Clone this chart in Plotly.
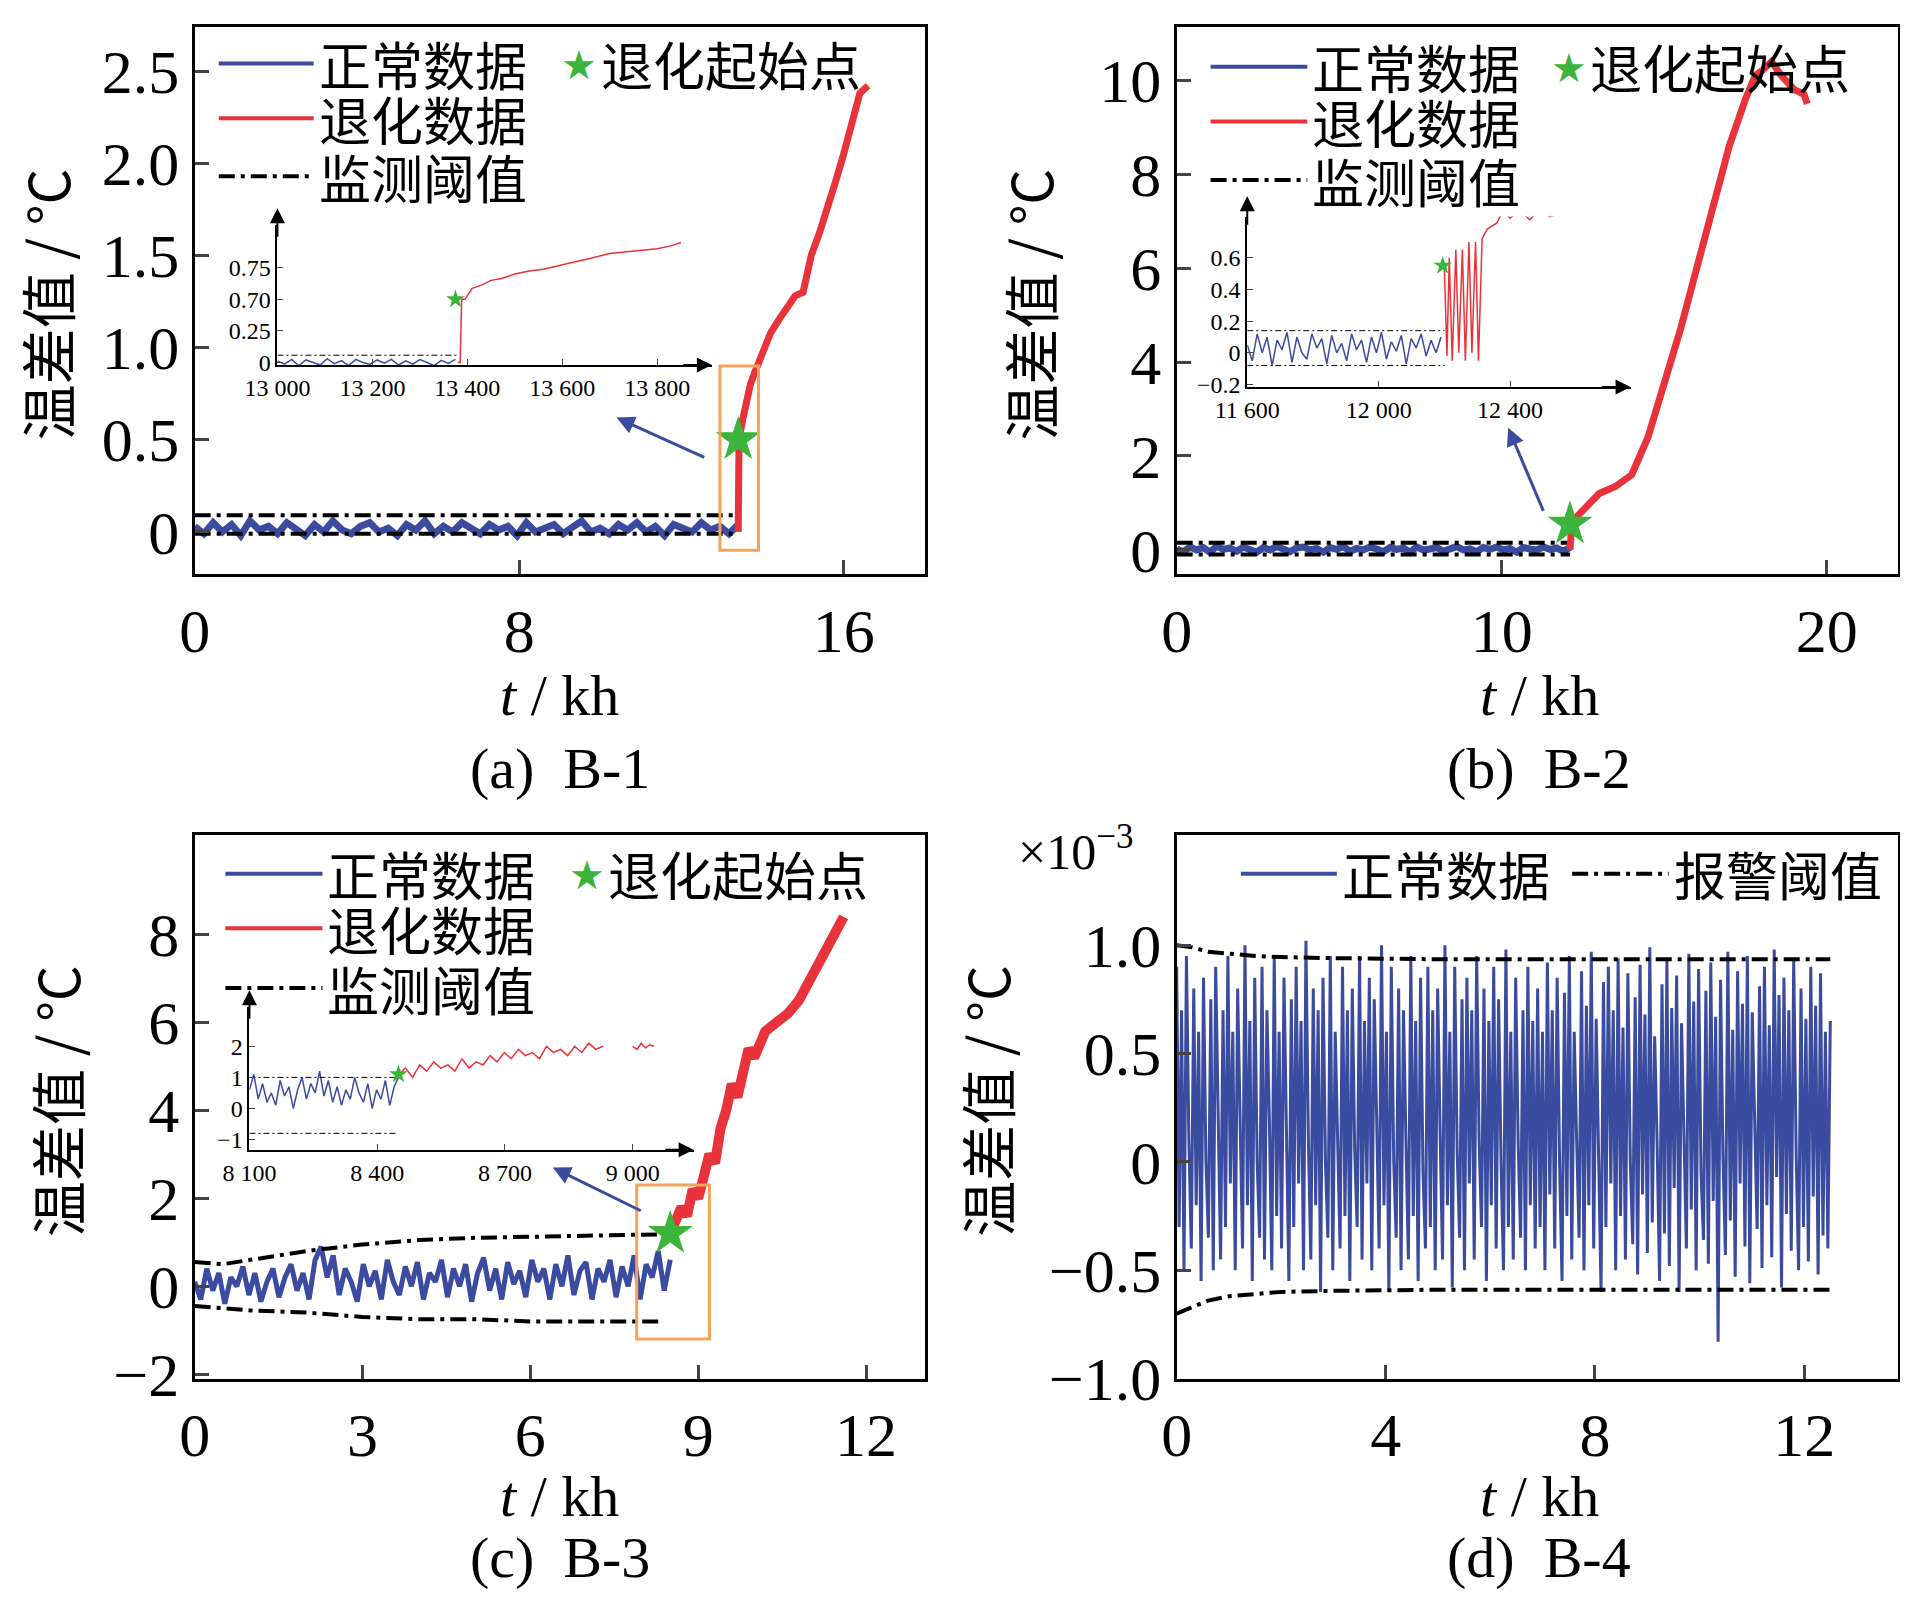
import numpy as np
import plotly.graph_objects as go

FW, FH = 1892, 1584
def px(x): return (x * 1908 / 1568 - 8) / FW
def py(y): return 1 - (y * 1600 / 1315 - 8) / FH
def cl(v): return [min(max(u, 0.0), 1.0) for u in v]

BLUE = '#3a4ba0'; RED = '#e8333a'; GREEN = '#3cb43c'; ORANGE = '#f5a35a'
SERIF = 'Liberation Serif'; CJK = 'Noto Sans CJK SC'

# ---------------- data ----------------
a_blue = [0.03,-0.01,0.05,0.00,0.04,-0.02,0.06,0.01,0.03,-0.01,0.05,0.02,-0.02,0.04,0.00,0.06,0.01,-0.01,0.03,0.05,
          0.00,0.02,-0.02,0.04,0.01,0.06,-0.01,0.03,0.00,0.05,0.02,-0.01,0.04,0.01,0.03,-0.02,0.05,0.00,0.02,0.04,
          -0.01,0.03,0.06,0.00,0.02,-0.01,0.04,0.01,0.05,0.00,0.03,-0.02,0.04,0.02,0.00,0.05,0.01,0.03,-0.01,0.04]
a_blue_t = np.linspace(0, 13.4, len(a_blue))
a_thr_t = [0, 13.4]; a_thr_up = [0.09, 0.09]; a_thr_lo = [-0.01, -0.01]
a_red_t = [13.4,13.42,13.5,13.6,13.7,13.8,13.9,14.0,14.2,14.4,14.6,14.8,15.0,15.2,15.4,15.6,15.8,16.0,16.2,16.4,16.6]
a_red = [0.0,0.5,0.6,0.72,0.8,0.86,0.92,0.98,1.08,1.15,1.22,1.28,1.3,1.5,1.62,1.75,1.9,2.05,2.2,2.38,2.42]
a_star = (13.4, 0.5)
# inset a (y on index scale: 0->0, 1->0.25, 2->0.70, 3->0.75)
ai_blue = [0.05,-0.05,0.1,-0.1,0.08,0.0,-0.08,0.12,-0.04,0.06,-0.1,0.1,0.0,-0.06,0.08,-0.02,0.1,-0.08,0.05,-0.05,0.09,0.0,-0.1,0.07,-0.03,0.1]
ai_blue_t = np.linspace(13000, 13375, len(ai_blue))
ai_thr_up = [0.23, 0.23]; ai_thr_lo = [-0.15, -0.15]; ai_thr_t = [13000, 13380]
ai_red_t = [13380,13385,13388,13395,13410,13430,13450,13470,13500,13530,13560,13600,13630,13660,13700,13730,13760,13800,13830,13850]
ai_red = [0.0,0.0,2.0,2.0,2.35,2.45,2.6,2.65,2.8,2.9,2.95,3.1,3.2,3.3,3.45,3.5,3.55,3.6,3.7,3.8]
ai_ticks = [0, 1, 2, 3]; ai_ticktext = ['0', '0.25', '0.70', '0.75']

b_blue = [0.02,-0.04,0.06,0.0,0.05,-0.05,0.08,0.01,0.04,-0.03,0.06,0.02,-0.05,0.05,0.0,0.07,0.01,-0.04,0.04,0.06,
          0.0,0.03,-0.05,0.05,0.01,0.07,-0.03,0.03,0.0,0.06,0.02,-0.04,0.05,0.01,0.04,-0.05,0.06,0.0,0.02,0.05,
          -0.03,0.04,0.07,0.0,0.02,-0.04,0.05,0.01,0.06,0.0,0.03,-0.05,0.05,0.02,0.0,0.06,0.01,0.04,-0.03,0.05]
b_blue_t = np.linspace(0, 12.1, len(b_blue))
b_thr_t = [0, 12.1]; b_thr_up = [0.15, 0.15]; b_thr_lo = [-0.1, -0.1]
b_red_t = [12.1,12.15,12.3,12.6,13.0,13.5,14.0,14.5,15.0,15.5,16.0,16.5,17.0,17.5,17.8,18.0,18.3,18.6,19.0,19.3,19.4]
b_red = [0.0,0.5,0.7,0.9,1.2,1.35,1.6,2.4,3.5,4.7,6.0,7.3,8.6,9.6,10.1,10.2,10.4,10.1,9.8,9.7,9.5]
b_star = (12.1, 0.55)
bi_blue = [0.05,-0.05,0.12,0.0,0.1,-0.08,0.08,0.02,0.13,-0.06,0.1,0.0,-0.04,0.12,0.03,0.09,-0.07,0.11,0.0,0.06,
           -0.05,0.12,0.02,0.08,-0.06,0.1,0.0,0.13,-0.04,0.07,0.01,0.11,-0.07,0.09,0.03,0.12,-0.02,0.08,0.0,0.1]
bi_blue_t = np.linspace(11600, 12190, len(bi_blue))
bi_thr_t = [11600, 12200]; bi_thr_up = [0.14, 0.14]; bi_thr_lo = [-0.08, -0.08]
bi_red_t = [12200,12208,12215,12224,12235,12244,12255,12264,12275,12284,12295,12304,12315,12330,12360,12380,12400,12430,12460,12490,12520,12560]
bi_red = [0.55,-0.02,0.6,-0.05,0.65,0.0,0.65,-0.05,0.7,0.0,0.7,-0.05,0.72,0.78,0.82,0.9,0.85,0.9,0.84,0.9,0.86,0.88]

c_blue = [0.1,-0.3,0.4,-0.1,0.3,-0.4,0.2,0.0,0.45,-0.2,0.3,-0.35,0.1,0.4,-0.25,0.2,0.5,-0.1,0.3,-0.3,
          0.6,0.9,0.2,0.7,-0.2,0.4,0.1,-0.35,0.5,0.0,0.35,-0.3,0.6,0.1,-0.2,0.45,0.0,0.55,-0.3,0.3,
          0.1,0.6,-0.25,0.4,0.0,0.5,-0.35,0.3,0.65,-0.1,0.4,-0.3,0.55,0.05,0.35,-0.25,0.6,0.1,0.4,-0.3,
          0.5,0.0,0.7,-0.2,0.35,0.55,-0.3,0.4,0.1,0.6,-0.25,0.45,0.0,0.7,-0.3,0.5,0.2,0.8,-0.1,0.6]
c_blue_t = np.linspace(0, 8.5, len(c_blue))
c_thr_t = [0,0.5,1,2,3,4,5,6,7,8,8.3]
c_thr_up = [0.55,0.5,0.6,0.8,0.95,1.05,1.1,1.12,1.15,1.17,1.18]
c_thr_lo = [-0.45,-0.5,-0.55,-0.6,-0.7,-0.75,-0.75,-0.8,-0.8,-0.8,-0.8]
c_red_t = [8.5,8.6,8.7,8.8,8.9,9.0,9.1,9.2,9.3,9.4,9.5,9.6,9.7,9.8,9.9,10.0,10.2,10.4,10.6,10.8,11.0,11.2,11.4,11.6]
c_red = [1.2,1.5,1.8,1.6,2.2,2.0,2.6,3.0,2.8,3.6,4.0,4.6,4.3,5.0,5.4,5.2,5.8,6.0,6.2,6.5,7.0,7.5,8.0,8.4]
c_star = (8.5, 1.2)
ci_blue = [0.6,1.1,0.3,0.8,0.2,0.5,0.1,0.9,0.4,0.7,0.0,0.6,1.0,0.3,0.8,0.5,1.2,0.4,0.9,0.2,
           0.7,0.1,0.6,0.3,1.0,0.5,0.2,0.8,0.0,0.6,0.3,0.9,0.1,0.7,1.0]
ci_blue_t = np.linspace(8100, 8450, len(ci_blue))
ci_thr_t = [8100, 8450]; ci_thr_up = [1.0, 1.0]; ci_thr_lo = [-0.8, -0.8]
ci_red = [1.1,1.3,1.0,1.4,1.2,1.5,1.3,1.4,1.2,1.6,1.3,1.5,1.4,1.7,1.5,1.8,1.6,1.9,1.7,1.8,1.6,2.0,1.8,1.9,1.7,2.0,1.8,2.1,1.9,2.0]
ci_red_t = np.linspace(8450, 8930, len(ci_red))
ci_red2_t = [9000, 9010, 9020, 9030, 9040, 9050]
ci_red2 = [2.0, 1.9, 2.1, 1.95, 2.05, 2.0]

d_blue = [0.9,-0.3,0.7,-0.5,0.95,0.1,-0.4,0.8,-0.2,0.6,-0.55,0.85,0.0,-0.35,0.75,-0.5,0.9,0.2,-0.45,0.7,
          -0.3,0.95,-0.1,0.6,-0.5,0.8,0.1,-0.4,1.0,-0.2,0.65,-0.55,0.85,0.0,-0.35,0.9,-0.45,0.7,0.2,-0.5,
          0.95,-0.25,0.6,-0.4,0.85,0.05,-0.55,0.75,-0.3,0.9,-0.1,0.65,-0.5,1.02,0.1,-0.45,0.8,-0.2,0.7,-0.6,
          0.85,0.0,-0.35,0.95,-0.5,0.6,0.15,-0.4,0.9,-0.25,0.7,-0.55,0.8,0.05,-0.3,0.95,-0.45,0.65,-0.1,0.85,
          -0.5,0.75,0.2,-0.4,1.0,-0.2,0.6,-0.6,0.9,0.0,-0.35,0.8,-0.5,0.7,0.1,-0.45,0.95,-0.25,0.65,-0.55,
          0.85,-0.05,-0.4,0.9,-0.3,0.7,-0.5,0.8,0.15,-0.45,1.0,-0.2,0.6,-0.58,0.9,0.05,-0.35,0.75,-0.5,0.85,
          -0.1,0.7,-0.45,0.95,0.1,-0.3,0.8,-0.55,0.65,-0.2,0.9,-0.4,0.75,0.0,-0.5,0.98,-0.3,0.6,-0.45,0.85,
          0.1,-0.35,0.7,-0.5,0.9,-0.2,0.65,-0.4,0.8,-0.3,0.6,-0.5,0.92,-0.15,0.7,-0.4,0.85,0.0,-0.55,0.78,
          -0.25,0.95,-0.45,0.6,0.1,-0.35,0.88,-0.5,0.72,-0.2,0.97,-0.4,0.66,0.05,-0.6,0.83,-0.3,0.9,-0.1,0.7,
          -0.5,0.94,-0.25,0.62,-0.45,0.87,0.0,-0.38,0.76,-0.52,0.91,-0.15,0.68,-0.42,0.99,-0.28,0.58,0.08,-0.55,0.82,
          -0.33,0.93,-0.48,0.71,-0.12,0.86,-0.6,0.64,0.12,-0.4,0.96,-0.22,0.74,-0.5,0.89,-0.05,-0.36,0.79,-0.47,0.92,
          -0.18,0.67,-0.83,0.84,0.02,-0.43,0.97,-0.27,0.61,-0.53,0.88,-0.1,0.73,-0.39,0.95,-0.56,0.69,0.14,-0.31,0.81,
          -0.49,0.9,-0.2,0.63,-0.44,0.98,-0.07,0.77,-0.58,0.85,-0.24,0.7,-0.41,0.93,0.04,-0.5,0.8,-0.3,0.66,-0.46,
          0.9,-0.16,0.72,-0.52,0.87,-0.34,0.6,-0.4,0.65]
d_blue_t = np.linspace(0, 12.5, len(d_blue))
d_thr_t = [0,0.3,0.6,1,1.5,2,3,5,8,12.5]
d_thr_up = [1.0,0.99,0.97,0.96,0.95,0.945,0.94,0.935,0.935,0.935]
d_thr_lo = [-0.7,-0.67,-0.64,-0.62,-0.61,-0.6,-0.595,-0.59,-0.59,-0.59]

# ---------------- figure ----------------
fig = go.Figure()
def line(x, y, ax, color, width=2, dash='solid'):
    fig.add_trace(go.Scatter(x=list(x), y=list(y), mode='lines', line=dict(color=color, width=width, dash=dash),
                             xaxis='x' + ax, yaxis='y' + ax, showlegend=False, hoverinfo='skip'))
def star(x, y, ax, size):
    fig.add_trace(go.Scatter(x=[x], y=[y], mode='markers', marker=dict(symbol='star', size=size, color=GREEN, line=dict(width=0)),
                             xaxis='x' + ax, yaxis='y' + ax, showlegend=False, hoverinfo='skip'))
DD = '16px,6px,4px,6px'
DDs = '6px,3px,2px,3px'
line(a_blue_t, a_blue, '', BLUE, 7)
line(a_thr_t, a_thr_up, '', 'black', 4, DD); line(a_thr_t, a_thr_lo, '', 'black', 4, DD)
line(a_red_t, a_red, '', RED, 7); star(*a_star, '', 34)
line(ai_blue_t, ai_blue, '5', BLUE, 1.5)
line(ai_thr_t, ai_thr_up, '5', 'black', 1, DDs); line(ai_thr_t, ai_thr_lo, '5', 'black', 1, DDs)
line(ai_red_t, ai_red, '5', RED, 1.5); star(13375, 2.0, '5', 14)
line(b_blue_t, b_blue, '2', BLUE, 7)
line(b_thr_t, b_thr_up, '2', 'black', 4, DD); line(b_thr_t, b_thr_lo, '2', 'black', 4, DD)
line(b_red_t, b_red, '2', RED, 7); star(*b_star, '2', 34)
line(bi_blue_t, bi_blue, '6', BLUE, 1.5)
line(bi_thr_t, bi_thr_up, '6', 'black', 1, DDs); line(bi_thr_t, bi_thr_lo, '6', 'black', 1, DDs)
line(bi_red_t, bi_red, '6', RED, 1.5); star(12195, 0.55, '6', 14)
line(c_blue_t, c_blue, '3', BLUE, 5)
line(c_thr_t, c_thr_up, '3', 'black', 4, DD); line(c_thr_t, c_thr_lo, '3', 'black', 4, DD)
line(c_red_t, c_red, '3', RED, 10); star(*c_star, '3', 34)
line(ci_blue_t, ci_blue, '7', BLUE, 1.5)
line(ci_thr_t, ci_thr_up, '7', 'black', 1, DDs); line(ci_thr_t, ci_thr_lo, '7', 'black', 1, DDs)
line(ci_red_t, ci_red, '7', RED, 1.5); line(ci_red2_t, ci_red2, '7', RED, 1.5); star(8450, 1.1, '7', 14)
line(d_blue_t, d_blue, '4', BLUE, 3)
line(d_thr_t, d_thr_up, '4', 'black', 4, DD); line(d_thr_t, d_thr_lo, '4', 'black', 4, DD)

tickfont = dict(family=SERIF, size=62, color='black')
def main_axes(xd, yd, xr, yr, xt, yt, ytext=None):
    xa = dict(domain=cl(xd), range=xr, tickvals=xt, ticks='inside', ticklen=14, tickwidth=3, showline=True, linewidth=3,
              linecolor='black', mirror=True, showgrid=False, zeroline=False, tickfont=tickfont, automargin=False)
    ya = dict(domain=cl(yd), range=yr, tickvals=yt, ticks='inside', ticklen=14, tickwidth=3, showline=True, linewidth=3,
              linecolor='black', mirror=True, showgrid=False, zeroline=False, tickfont=tickfont, automargin=False)
    if ytext: ya['ticktext'] = ytext
    return xa, ya
def inset_axes(xd, yd, xr, yr, xt, xtext, yt, ytext, anchor):
    f = dict(family=SERIF, size=24, color='black')
    xa = dict(domain=cl(xd), range=xr, tickvals=xt, ticktext=xtext, ticks='inside', ticklen=6, showline=True, linewidth=2,
              linecolor='black', showgrid=False, zeroline=False, tickfont=f, anchor='y' + anchor, automargin=False)
    ya = dict(domain=cl(yd), range=yr, tickvals=yt, ticktext=ytext, ticks='inside', ticklen=6, showline=True, linewidth=2,
              linecolor='black', showgrid=False, zeroline=False, tickfont=f, anchor='x' + anchor, automargin=False)
    return xa, ya

TOP_Y = [py(472), py(22)]; BOT_Y = [py(1133), py(686)]
LX = [px(160), px(760)]; RX = [px(967), px(1560)]
xa1, ya1 = main_axes(LX, TOP_Y, [0, 18.0], [-0.23, 2.74], [0, 8, 16], [0, 0.5, 1.0, 1.5, 2.0, 2.5], ['0', '0.5', '1.0', '1.5', '2.0', '2.5'])
xa2, ya2 = main_axes(RX, TOP_Y, [0, 22.2], [-0.52, 11.14], [0, 10, 20], [0, 2, 4, 6, 8, 10])
xa3, ya3 = main_axes(LX, BOT_Y, [0, 13.05], [-2.1, 10.27], [0, 3, 6, 9, 12], [-2, 0, 2, 4, 6, 8], ['−2', '0', '2', '4', '6', '8'])
xa4, ya4 = main_axes(RX, BOT_Y, [0, 13.8], [-1.0, 1.51], [0, 4, 8, 12], [-1.0, -0.5, 0, 0.5, 1.0], ['−1.0', '−0.5', '0', '0.5', '1.0'])
xa1['anchor'] = 'y'; ya1['anchor'] = 'x'
xa2['anchor'] = 'y2'; ya2['anchor'] = 'x2'
xa3['anchor'] = 'y3'; ya3['anchor'] = 'x3'
xa4['anchor'] = 'y4'; ya4['anchor'] = 'x4'
xa5, ya5 = inset_axes([px(228), px(585)], [py(300), py(185)], [13000, 13915], [-0.08, 4.35],
                      [13000, 13200, 13400, 13600, 13800], ['13 000', '13 200', '13 400', '13 600', '13 800'], ai_ticks, ai_ticktext, '5')
xa6, ya6 = inset_axes([px(1025), px(1340)], [py(318), py(178)], [11600, 12767], [-0.215, 0.86],
                      [11600, 12000, 12400], ['11 600', '12 000', '12 400'], [-0.2, 0, 0.2, 0.4, 0.6], ['−0.2', '0', '0.2', '0.4', '0.6'], '6')
xa7, ya7 = inset_axes([px(205), px(570)], [py(945), py(828)], [8100, 9143], [-1.33, 3.25],
                      [8100, 8400, 8700, 9000], ['8 100', '8 400', '8 700', '9 000'], [-1, 0, 1, 2], ['−1', '0', '1', '2'], '7')

shapes = []
annots = []
def ann(x, y, text, size=58, family=CJK, xanchor='left', angle=0, **kw):
    annots.append(dict(x=x, y=y, xref='paper', yref='paper', text=text, showarrow=False, xanchor=xanchor,
                       yanchor='middle', textangle=angle, font=dict(family=family, size=size, color='black'), **kw))

def legend(ax, items):
    for kind, x0, x1, y, text in items:
        dom = ax + ' domain' if ax else 'x domain'
        ydom = ('y' + ax[1:] if ax else 'y') + ' domain'
        if kind == 'star':
            annots.append(dict(x=x0, y=y, xref=dom, yref=ydom, text='★', showarrow=False,
                               font=dict(size=40, color=GREEN), xanchor='center', yanchor='middle'))
        else:
            col = {'blue': BLUE, 'red': RED, 'dd': 'black'}[kind]
            shapes.append(dict(type='line', xref=dom, yref=ydom, x0=x0, x1=x1, y0=y, y1=y,
                               line=dict(color=col, width=4, dash=DD if kind == 'dd' else 'solid')))
        annots.append(dict(x=x1 + 0.004, y=y, xref=dom, yref=ydom, text=text, showarrow=False, xanchor='left',
                           yanchor='middle', font=dict(family=CJK, size=52, color='black')))
legend('', [('blue', 0.033, 0.163, 0.933, '正常数据'), ('red', 0.033, 0.163, 0.833, '退化数据'),
            ('dd', 0.033, 0.163, 0.727, '监测阈值'), ('star', 0.527, 0.55, 0.933, '退化起始点')])
legend('x2', [('blue', 0.047, 0.181, 0.927, '正常数据'), ('red', 0.047, 0.181, 0.827, '退化数据'),
              ('dd', 0.047, 0.181, 0.72, '监测阈值'), ('star', 0.543, 0.566, 0.927, '退化起始点')])
legend('x3', [('blue', 0.042, 0.175, 0.928, '正常数据'), ('red', 0.042, 0.175, 0.828, '退化数据'),
              ('dd', 0.042, 0.175, 0.718, '监测阈值'), ('star', 0.538, 0.56, 0.928, '退化起始点')])
legend('x4', [('blue', 0.089, 0.222, 0.928, '正常数据'), ('dd', 0.548, 0.682, 0.928, '报警阈值')])

shapes.append(dict(type='rect', xref='x', yref='y', x0=12.95, x1=13.9, y0=-0.1, y1=0.9, line=dict(color=ORANGE, width=3)))
shapes.append(dict(type='rect', xref='x3', yref='y3', x0=7.9, x1=9.2, y0=-1.2, y1=2.3, line=dict(color=ORANGE, width=3)))
for xr, yr, x, y, ax, ay in [('x', 'y', 10.4, 0.62, 12.6, 0.4), ('x2', 'y2', 10.2, 2.6, 11.3, 0.8), ('x3', 'y3', 6.4, 2.7, 8.0, 1.7)]:
    annots.append(dict(x=x, y=y, ax=ax, ay=ay, xref=xr, yref=yr, axref=xr, ayref=yr, text='', showarrow=True,
                       arrowhead=2, arrowsize=1.2, arrowwidth=3, arrowcolor=BLUE))
for a in ['5', '6', '7']:
    annots.append(dict(x=1, y=0, xref='x%s domain' % a, yref='y%s domain' % a, ax=-30, ay=0, text='', showarrow=True,
                       arrowhead=2, arrowsize=1.5, arrowwidth=2, arrowcolor='black'))
    annots.append(dict(x=0, y=1.12, xref='x%s domain' % a, yref='y%s domain' % a, ax=0, ay=30, text='', showarrow=True,
                       arrowhead=2, arrowsize=1.5, arrowwidth=2, arrowcolor='black'))

for yy, cx in [(250, 37), (250, 845), (905, 45), (905, 810)]:
    ann(px(cx), py(yy), '温差值 / °C', size=56, xanchor='center', angle=-90)
for cx, ty, cy, cap in [(460, 572, 632, '(a)  B-1'), (1265, 572, 632, '(b)  B-2'), (460, 1230, 1280, '(c)  B-3'), (1265, 1230, 1280, '(d)  B-4')]:
    ann(px(cx), py(ty), '<i>t</i> / kh', size=58, family=SERIF, xanchor='center')
    ann(px(cx), py(cy), cap, size=58, family=SERIF, xanchor='center')
ann(px(835), py(697), '×10<sup>−3</sup>', size=50, family=SERIF)

fig.update_layout(width=FW, height=FH, margin=dict(l=0, r=0, t=0, b=0), plot_bgcolor='white', paper_bgcolor='white',
                  showlegend=False, shapes=shapes, annotations=annots,
                  xaxis=xa1, yaxis=ya1, xaxis2=xa2, yaxis2=ya2, xaxis3=xa3, yaxis3=ya3, xaxis4=xa4, yaxis4=ya4,
                  xaxis5=xa5, yaxis5=ya5, xaxis6=xa6, yaxis6=ya6, xaxis7=xa7, yaxis7=ya7)
fig.write_html('out.html')
